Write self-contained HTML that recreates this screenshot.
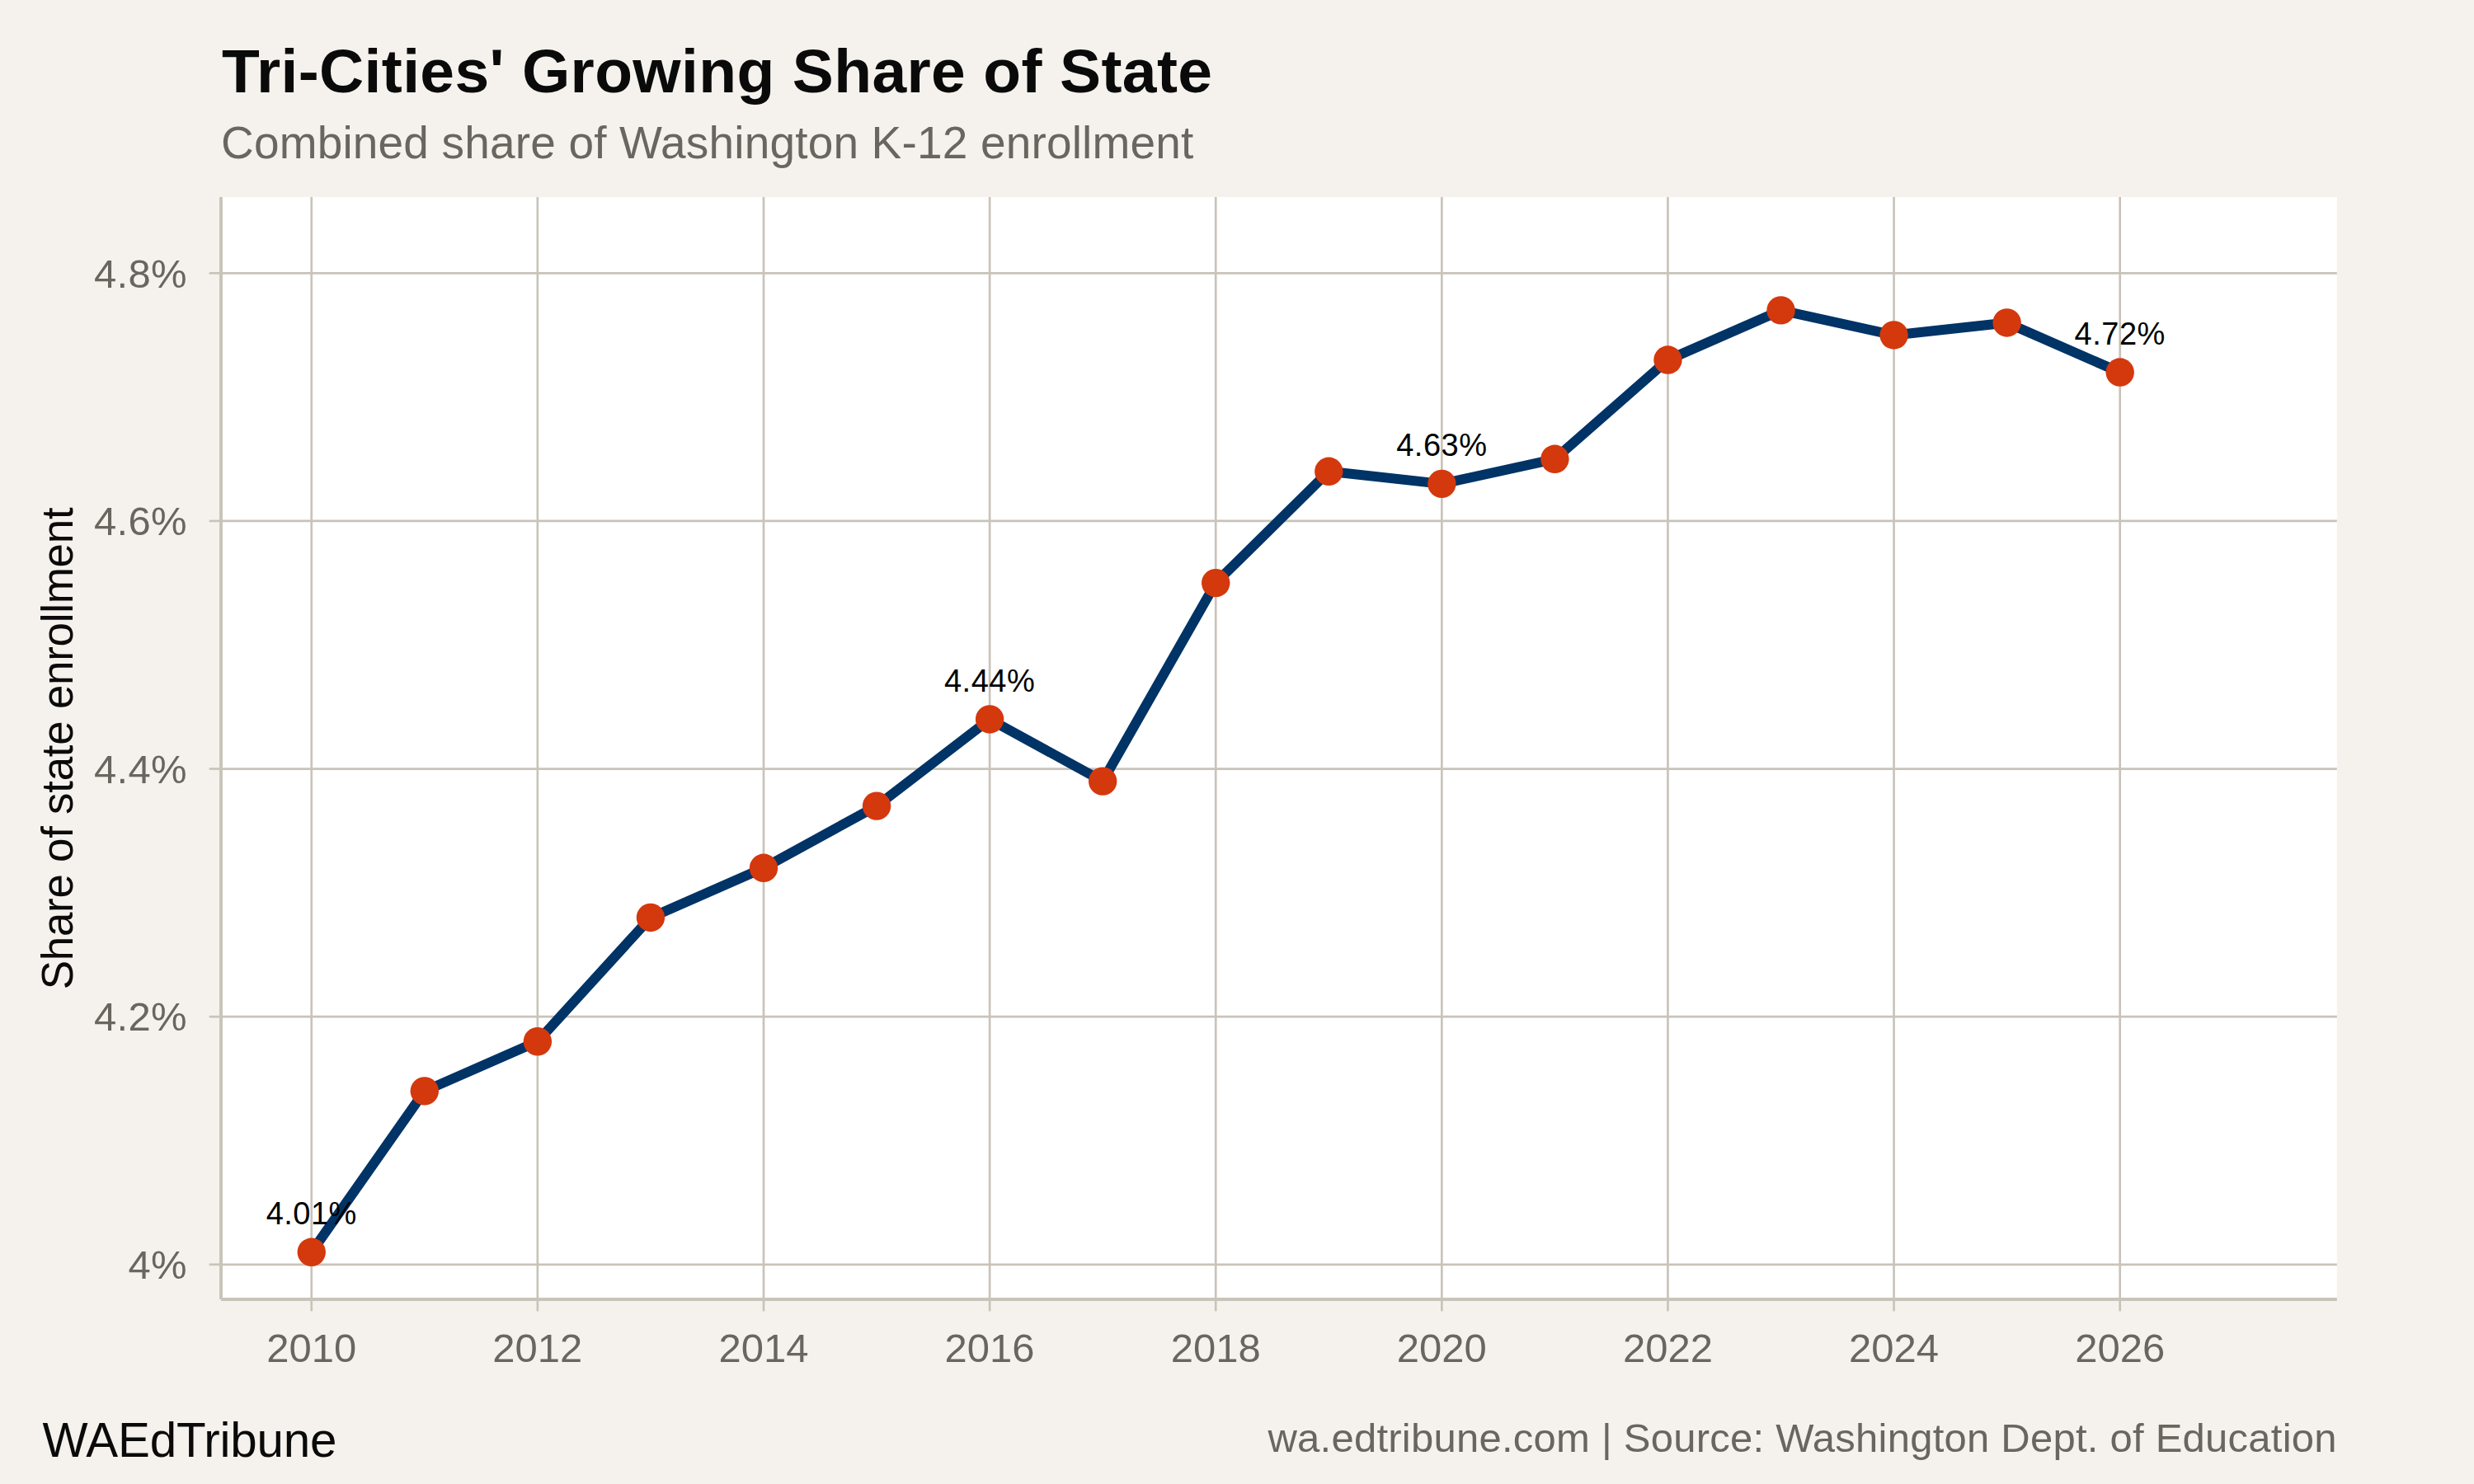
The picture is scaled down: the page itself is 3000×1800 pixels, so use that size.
<!DOCTYPE html>
<html lang="en"><head><meta charset="utf-8"><title>Tri-Cities' Growing Share of State</title>
<style>html,body{margin:0;padding:0;background:#F5F2ED;}body{width:3000px;height:1800px;overflow:hidden;}svg{display:block;}text{font-family:"Liberation Sans", sans-serif;}</style></head><body>
<svg width="3000" height="1800" viewBox="0 0 3000 1800">
<rect x="0" y="0" width="3000" height="1800" fill="#F5F2ED"/>
<rect x="268.0" y="239.0" width="2565.8" height="1337.0" fill="#FFFFFF"/>
<g stroke="#C9C3B9" stroke-width="2.67" fill="none">
<line x1="268.0" y1="1533.80" x2="2833.8" y2="1533.80"/>
<line x1="268.0" y1="1233.18" x2="2833.8" y2="1233.18"/>
<line x1="268.0" y1="932.56" x2="2833.8" y2="932.56"/>
<line x1="268.0" y1="631.94" x2="2833.8" y2="631.94"/>
<line x1="268.0" y1="331.32" x2="2833.8" y2="331.32"/>
<line x1="377.75" y1="239.0" x2="377.75" y2="1576.0"/>
<line x1="651.87" y1="239.0" x2="651.87" y2="1576.0"/>
<line x1="925.99" y1="239.0" x2="925.99" y2="1576.0"/>
<line x1="1200.11" y1="239.0" x2="1200.11" y2="1576.0"/>
<line x1="1474.22" y1="239.0" x2="1474.22" y2="1576.0"/>
<line x1="1748.34" y1="239.0" x2="1748.34" y2="1576.0"/>
<line x1="2022.46" y1="239.0" x2="2022.46" y2="1576.0"/>
<line x1="2296.58" y1="239.0" x2="2296.58" y2="1576.0"/>
<line x1="2570.70" y1="239.0" x2="2570.70" y2="1576.0"/>
<line x1="253.7" y1="1533.80" x2="268.0" y2="1533.80"/>
<line x1="253.7" y1="1233.18" x2="268.0" y2="1233.18"/>
<line x1="253.7" y1="932.56" x2="268.0" y2="932.56"/>
<line x1="253.7" y1="631.94" x2="268.0" y2="631.94"/>
<line x1="253.7" y1="331.32" x2="268.0" y2="331.32"/>
<line x1="377.75" y1="1576.0" x2="377.75" y2="1590.4"/>
<line x1="651.87" y1="1576.0" x2="651.87" y2="1590.4"/>
<line x1="925.99" y1="1576.0" x2="925.99" y2="1590.4"/>
<line x1="1200.11" y1="1576.0" x2="1200.11" y2="1590.4"/>
<line x1="1474.22" y1="1576.0" x2="1474.22" y2="1590.4"/>
<line x1="1748.34" y1="1576.0" x2="1748.34" y2="1590.4"/>
<line x1="2022.46" y1="1576.0" x2="2022.46" y2="1590.4"/>
<line x1="2296.58" y1="1576.0" x2="2296.58" y2="1590.4"/>
<line x1="2570.70" y1="1576.0" x2="2570.70" y2="1590.4"/>
</g>
<path d="M268.0 239.0 L268.0 1576.0 M268.0 1576.0 L2833.8 1576.0" stroke="#C9C3B9" stroke-width="3.9" fill="none"/>
<polyline points="377.75,1518.77 514.81,1323.37 651.87,1263.24 788.93,1112.93 925.99,1052.81 1063.05,977.65 1200.11,872.44 1337.17,947.59 1474.22,707.10 1611.28,571.82 1748.34,586.85 1885.40,556.78 2022.46,436.54 2159.52,376.41 2296.58,406.48 2433.64,391.44 2570.70,451.57" fill="none" stroke="#003366" stroke-width="12" stroke-linejoin="round" stroke-linecap="butt"/>
<g fill="#D4380D">
<circle cx="377.75" cy="1518.77" r="17.2"/>
<circle cx="514.81" cy="1323.37" r="17.2"/>
<circle cx="651.87" cy="1263.24" r="17.2"/>
<circle cx="788.93" cy="1112.93" r="17.2"/>
<circle cx="925.99" cy="1052.81" r="17.2"/>
<circle cx="1063.05" cy="977.65" r="17.2"/>
<circle cx="1200.11" cy="872.44" r="17.2"/>
<circle cx="1337.17" cy="947.59" r="17.2"/>
<circle cx="1474.22" cy="707.10" r="17.2"/>
<circle cx="1611.28" cy="571.82" r="17.2"/>
<circle cx="1748.34" cy="586.85" r="17.2"/>
<circle cx="1885.40" cy="556.78" r="17.2"/>
<circle cx="2022.46" cy="436.54" r="17.2"/>
<circle cx="2159.52" cy="376.41" r="17.2"/>
<circle cx="2296.58" cy="406.48" r="17.2"/>
<circle cx="2433.64" cy="391.44" r="17.2"/>
<circle cx="2570.70" cy="451.57" r="17.2"/>
</g>
<g font-size="38" fill="#000000" text-anchor="middle" letter-spacing="0.5">
<text x="377.75" y="1484.87">4.01%</text>
<text x="1200.11" y="839.29">4.44%</text>
<text x="1748.34" y="552.85">4.63%</text>
<text x="2570.70" y="417.57">4.72%</text>
</g>
<g font-size="49" letter-spacing="0.3" fill="#6B6560" text-anchor="end">
<text transform="translate(226.8,1551.00) scale(1,0.98)">4%</text>
<text transform="translate(226.8,1250.38) scale(1,0.98)">4.2%</text>
<text transform="translate(226.8,949.76) scale(1,0.98)">4.4%</text>
<text transform="translate(226.8,649.14) scale(1,0.98)">4.6%</text>
<text transform="translate(226.8,348.52) scale(1,0.98)">4.8%</text>
</g>
<g font-size="49" fill="#6B6560" text-anchor="middle">
<text transform="translate(377.75,1651.8) scale(1,0.98)">2010</text>
<text transform="translate(651.87,1651.8) scale(1,0.98)">2012</text>
<text transform="translate(925.99,1651.8) scale(1,0.98)">2014</text>
<text transform="translate(1200.11,1651.8) scale(1,0.98)">2016</text>
<text transform="translate(1474.22,1651.8) scale(1,0.98)">2018</text>
<text transform="translate(1748.34,1651.8) scale(1,0.98)">2020</text>
<text transform="translate(2022.46,1651.8) scale(1,0.98)">2022</text>
<text transform="translate(2296.58,1651.8) scale(1,0.98)">2024</text>
<text transform="translate(2570.70,1651.8) scale(1,0.98)">2026</text>
</g>
<text transform="translate(88,908) rotate(-90)" font-size="53" letter-spacing="-0.3" fill="#0A0A0A" text-anchor="middle">Share of state enrollment</text>
<text x="268.9" y="111.6" font-size="75" font-weight="bold" letter-spacing="0.37" fill="#0A0A0A">Tri-Cities' Growing Share of State</text>
<text x="268" y="192" font-size="55" letter-spacing="0.17" fill="#6B6560">Combined share of Washington K-12 enrollment</text>
<text x="51.5" y="1767" font-size="58.33" letter-spacing="-0.19" fill="#0A0A0A">WAEdTribune</text>
<text x="2833.8" y="1761.1" font-size="49" letter-spacing="0.24" fill="#6B6560" text-anchor="end">wa.edtribune.com | Source: Washington Dept. of Education</text>
</svg></body></html>
